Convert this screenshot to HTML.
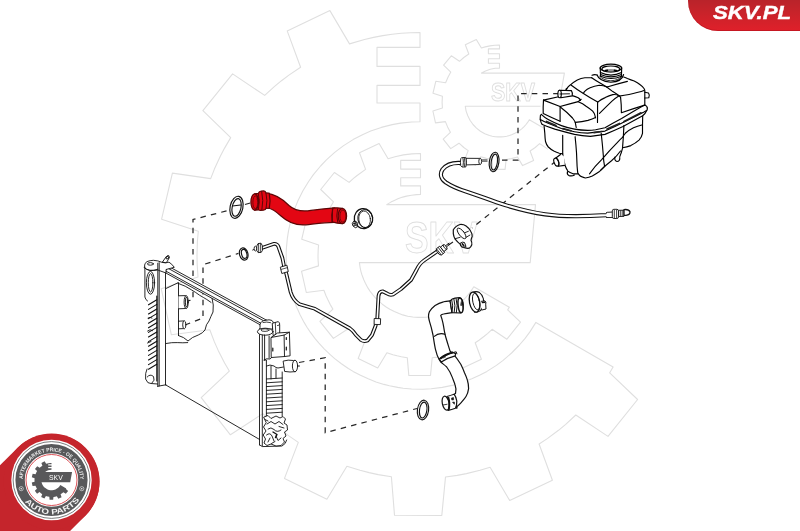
<!DOCTYPE html>
<html><head><meta charset="utf-8"><title>SKV</title>
<style>
html,body{margin:0;padding:0;background:#fff;overflow:hidden;}
body{width:800px;height:531px;position:relative;font-family:"Liberation Sans",sans-serif;}
svg{position:absolute;left:0;top:0;display:block;will-change:transform;}
.tab{position:absolute;left:688px;top:0;width:112px;height:30.6px;border-bottom-left-radius:30px 30px;box-shadow:inset 0 -1px 0 rgba(150,10,20,0.35);background:linear-gradient(#b9232a,#c8232a 40%,#e0202a);}
.tab span{position:absolute;left:712px;top:0;}
.tabtxt{position:absolute;left:712.5px;top:4.4px;font-family:"Liberation Sans",sans-serif;font-weight:bold;font-style:italic;font-size:18.5px;color:#fff;letter-spacing:0px;transform-origin:0 0;transform:scaleX(1.2);-webkit-text-stroke:0.4px #fff;white-space:nowrap;line-height:18px;}
</style></head>
<body>
<svg width="800" height="531" viewBox="0 0 800 531">
<g fill="none" stroke="#dfdfdf" stroke-width="1.1" stroke-linejoin="round"><path d="M300.6,67.2 L288.9,75.1 L281.5,80.7 L274.3,86.7 L264.7,95.4 L232.6,73.9 L202.9,110.7 L230.7,137.6 L224.6,148.1 L220.3,156.3 L214.4,169.1 L210.7,178.6 L172.4,173.1 L161.6,219.2 L198.3,231.3 L197.4,241.5 L197.0,255.5 L197.2,264.8 L198.0,277.0 L161.2,288.7 L171.4,334.8 L209.8,329.8 L214.4,341.9 L218.2,350.4 L224.6,362.9 L229.3,371.1 L201.2,397.6 L230.4,434.8 L262.8,413.6 L270.8,421.2 L281.5,430.3 L288.9,435.9 L298.3,442.4 L284.5,478.4 L326.9,499.2 L346.9,466.2 L360.0,470.3 L369.1,472.6 L378.2,474.6 L391.4,476.7 L394.5,515.2 L441.8,515.5 L445.5,477.0 L457.2,475.4 L466.4,473.6 L480.0,470.3 L490.1,467.2 L509.7,500.5 L552.4,480.3 L539.1,444.0 L547.3,438.6 L558.5,430.3 L565.7,424.3 L575.8,415.0 L608.0,436.4 L637.6,399.5 L609.7,372.8 L613.1,367.0 L535.9,322.4 L529.9,331.9 L524.9,338.6 L519.4,345.0 L511.6,353.0 L503.1,360.4 L496.4,365.4 L486.9,371.4 L479.5,375.3 L471.8,378.8 L461.3,382.8 L453.3,385.1 L442.3,387.4 L431.2,388.8 L422.8,389.3 L411.6,389.0 L403.2,388.2 L397.7,387.4 L389.4,385.8 L384.0,384.4 L376.0,381.9 L368.2,378.8 L360.5,375.3 L353.1,371.4 L348.3,368.5 L341.4,363.7 L334.7,358.6 L330.5,354.9 L324.4,349.1 L318.7,342.9 L315.1,338.6 L310.1,331.9 L307.0,327.2 L304.1,322.4 L300.2,315.0 L296.7,307.3 L293.6,299.5 L291.1,291.5 L289.1,283.3 L287.6,275.0 L286.9,269.5 L286.3,261.1 L286.2,252.7 L286.5,247.1 L287.3,238.7 L288.6,230.4 L290.4,222.2 L291.9,216.8 L294.6,208.9 L297.8,201.1 L302.8,191.0 L308.6,181.5 L313.4,174.6 L320.6,166.0 L326.4,159.9 L334.7,152.4 L343.6,145.6 L353.1,139.6 L363.0,134.4 L370.7,131.1 L381.3,127.4 L392.2,124.6 L400.5,123.1 L411.6,122.0 L420.0,121.7 L420.0,103.0 L377.0,103.0 L377.0,85.4 L420.0,85.4 L420.0,66.4 L377.0,66.4 L377.0,47.4 L420.0,47.4 L420.0,32.5 L410.7,32.7 L401.3,33.3 L392.1,34.3 L382.8,35.6 L373.6,37.4 L364.5,39.5 L349.5,43.9 L329.9,10.6 L287.2,30.9 L300.6,67.2Z"/><path d="M468.8,54.0 L463.8,57.5 L459.5,61.3 L451.3,55.8 L443.6,65.2 L450.8,72.1 L448.1,77.0 L445.6,82.7 L435.8,81.3 L433.0,93.2 L442.4,96.3 L442.1,102.5 L442.4,108.0 L432.9,111.0 L435.5,122.9 L445.4,121.6 L447.6,126.9 L450.4,132.3 L443.2,139.1 L450.7,148.6 L459.0,143.2 L463.8,147.5 L468.2,150.6 L464.6,159.9 L475.5,165.2 L480.7,156.7 L486.4,158.4 L492.1,159.4 L492.9,169.3 L505.1,169.4 L506.1,159.5 L511.4,158.6 L517.5,157.0 L522.6,165.6 L533.6,160.4 L530.1,151.0 L535.2,147.5 L539.6,143.6 L547.9,149.1 L555.5,139.6 L548.3,132.7 L549.2,131.2 L529.3,119.7 L527.8,122.2 L526.0,124.5 L524.1,126.6 L522.0,128.6 L519.7,130.4 L517.3,132.0 L514.8,133.3 L512.2,134.5 L509.5,135.5 L506.7,136.2 L503.8,136.7 L500.9,136.9 L498.1,136.9 L495.2,136.7 L492.3,136.2 L489.5,135.5 L484.8,133.7 L480.4,131.2 L476.5,128.1 L473.0,124.5 L470.0,120.3 L467.8,115.8 L466.1,111.1 L465.3,106.3 L558.6,106.3 L564.4,73.1 L481.5,73.1 L485.5,71.0 L490.2,69.3 L495.2,68.3 L499.5,68.1 L499.5,63.2 L488.4,63.2 L488.4,58.7 L499.5,58.7 L499.5,53.8 L488.4,53.8 L488.4,48.9 L499.5,48.9 L499.5,45.1 L494.7,45.3 L489.9,45.9 L485.2,46.9 L481.4,48.0 L476.3,39.5 L465.3,44.7 L468.8,54.0Z"/><path d="M365.6,169.4 L356.8,175.7 L353.5,178.4 L349.1,182.4 L334.4,172.5 L320.7,189.5 L333.5,201.8 L330.7,206.6 L328.7,210.4 L326.0,216.3 L324.3,220.7 L306.7,218.1 L301.7,239.3 L318.6,244.9 L318.2,249.6 L318.0,256.0 L318.1,260.3 L318.5,265.9 L301.5,271.2 L306.3,292.5 L323.9,290.2 L326.0,295.7 L327.8,299.6 L330.7,305.4 L332.9,309.1 L319.9,321.3 L333.4,338.4 L348.2,328.7 L351.9,332.2 L356.8,336.3 L360.3,338.9 L364.6,341.9 L358.2,358.5 L377.7,368.0 L386.9,352.8 L392.9,354.7 L397.1,355.8 L401.3,356.7 L407.3,357.7 L408.8,375.4 L430.5,375.5 L432.2,357.8 L437.6,357.1 L441.8,356.3 L448.1,354.7 L452.7,353.3 L461.7,368.6 L481.4,359.3 L475.2,342.7 L479.0,340.2 L484.2,336.3 L487.5,333.6 L492.1,329.3 L506.9,339.2 L520.5,322.2 L507.7,309.9 L509.3,307.2 L473.8,286.8 L471.0,291.1 L467.9,295.2 L464.4,299.0 L460.7,302.6 L456.6,305.8 L452.4,308.6 L447.8,311.1 L443.1,313.2 L438.3,314.9 L433.3,316.2 L428.2,317.0 L423.1,317.4 L417.9,317.4 L412.8,317.0 L407.7,316.2 L402.7,314.9 L399.1,313.6 L394.3,311.6 L389.8,309.3 L386.5,307.2 L382.3,304.2 L379.3,301.7 L375.7,298.1 L373.1,295.2 L370.0,291.1 L367.9,287.9 L365.4,283.3 L363.8,279.8 L362.0,275.0 L360.9,271.3 L360.1,267.5 L359.4,262.6 L530.2,262.6 L535.5,204.6 L386.7,204.6 L390.9,202.1 L394.3,200.4 L397.9,198.8 L402.7,197.1 L406.5,196.1 L411.5,195.2 L416.6,194.6 L420.5,194.5 L420.5,185.9 L400.7,185.9 L400.7,177.8 L420.5,177.8 L420.5,169.1 L400.7,169.1 L400.7,160.4 L420.5,160.4 L420.5,153.5 L411.9,153.9 L403.4,154.9 L395.0,156.7 L388.1,158.8 L379.1,143.5 L359.5,152.8 L365.6,169.4Z"/><text x="491" y="101.3" textLength="44" lengthAdjust="spacingAndGlyphs" font-family="Liberation Sans" font-weight="bold" font-size="25" fill="none" stroke="#dfdfdf" stroke-width="1">SKV</text><text x="405" y="253.3" textLength="72.5" lengthAdjust="spacingAndGlyphs" font-family="Liberation Sans" font-weight="bold" font-size="43.5" fill="none" stroke="#dfdfdf" stroke-width="1">SKV</text></g>
<g id="dashes" fill="none" stroke="#262626" stroke-width="1.25" stroke-dasharray="5.5 5.2">
<path d="M185,301 L193,300 L193,219.5 L230,210"/>
<path d="M245,204.5 L252,202.5"/>
<path d="M185,325 L203,318 L203,264.7 L238.4,253.4"/>
<path d="M299,362.5 L325.2,357.7 L325.2,432.7 L417,408.5"/>
<path d="M502,160 L518,160 L518,93.5 L558,93.5"/>
<path d="M556,161 L472,228"/>
<path d="M453,242 L444,248"/>
</g>

<g id="rad" fill="none" stroke="#111" stroke-width="0.9" stroke-linejoin="round" stroke-linecap="round">
<!-- blob behind radiator -->
<path d="M166,288.5 L178.5,282.5 L178.5,335.5 M178.5,335.5 Q184,337 188,341 Q192,337 198.3,335 Q203,333 205,330 Q206,324 209,321 Q211,316 213,312 Q214,305 212,298 Q208,293 205,291 Q200,289 196,288.5"/>
<path d="M166,343.5 Q172,342.3 177.2,342.6 Q183,343 187.7,342.6"/>
<!-- stubs on blob -->
<path fill="#fff" d="M178.5,295.8 L186,295.6 L186.4,308.5 L178.5,308.8 Z" stroke="none"/>
<path d="M178.5,295.8 L185.5,295.6 M178.5,308.8 L185.8,308.5"/>
<ellipse cx="186.2" cy="302.1" rx="2.1" ry="6.5" fill="#fff"/>
<ellipse cx="186.5" cy="302.1" rx="1.1" ry="5"/>
<path d="M178.5,321.2 L184,320.9 M178.5,328.8 L184,328.6"/>
<ellipse cx="184.3" cy="324.8" rx="1.6" ry="4" fill="#fff"/>
<!-- top rail -->
<path fill="#fff" stroke="none" d="M169.5,266.9 L266.2,320.0 L259.8,324.6 L165.5,272.8 L165.5,269.7 Z"/>
<path d="M169.5,266.9 L266.2,320.0 M167.5,268.0 L264.6,321.3 M165.5,270.9 L261.5,323.6 M165.5,272.8 L259.8,324.6"/>
<path d="M266.2,320.0 L264.6,321.3 M261.5,323.6 L259.8,324.6"/>
<path d="M165.5,270.9 L167.5,268.0 L169.5,266.9"/>
<path d="M178,283.3 Q186,286 191.2,289.7 Q196,292.5 199.7,295.3 Q204,297.8 206.8,299.5 L211,302.4" stroke-width="0.9"/>
<!-- left tank frame -->
<path d="M157.8,263 L157.8,386.3 M159.2,262.6 L159.2,386 M165.5,269.6 L165.5,384.8"/>
<path d="M157.6,386.3 L165.9,384.8"/>
<!-- left tank body -->
<path fill="#fff" d="M144.4,266.5 Q144.3,262.8 147,261.6 Q150,260.4 153.4,260.3 Q158,260.5 161.8,262.3 L165,262.8 L169,262.2 Q171.8,263.8 174.3,267.3 L166,269.5 L166,273 L157.8,270 Q153,270.8 149.9,270.4 Q146,269.6 144.4,267.8 Z"/>
<path d="M144.6,267.8 Q146.5,269.8 149.9,270.4 Q154,270.6 157.8,269.3"/>
<ellipse cx="150.4" cy="263.9" rx="3" ry="1.3"/>
<path d="M157.8,263.2 L157.8,269.5 M159.2,262.6 L159.2,269.8"/>
<path fill="#fff" d="M162.6,261.8 L166.3,256.5 Q168.5,255.7 169.3,257.8 L166.5,262.5 Z"/>
<ellipse cx="167.6" cy="257.3" rx="1.2" ry="2" transform="rotate(35 167.6 257.3)"/>
<path d="M144.9,267 L144.9,297 Q145.5,300 147.5,301 M147,369 Q145,373 145.6,379 Q147.5,384 151,383.5 L157.6,384"/>
<ellipse cx="150.5" cy="282.8" rx="4.1" ry="11.4"/>
<ellipse cx="150.6" cy="282.8" rx="2.3" ry="9.2"/>
<g stroke-width="1.1">
<path d="M148.5,304.8 L156.8,299.8 M148.5,309.4 L156.8,304.4 M148.5,314.0 L156.8,309.0 M148.5,318.6 L156.8,313.6 M148.5,323.2 L156.8,318.2 M148.5,327.8 L156.8,322.8 M148.5,332.4 L156.8,327.4 M148.5,337.0 L156.8,332.0 M148.5,341.6 L156.8,336.6 M148.5,346.2 L156.8,341.2 M148.5,350.8 L156.8,345.8 M148.5,355.4 L156.8,350.4 M148.5,360.0 L156.8,355.0 M148.5,364.6 L156.8,359.6 M148.5,369.2 L156.8,364.2"/>
<path d="M156.8,296 L156.8,381"/>
<path d="M147.2,377 Q150,373.5 153.5,376.5 Q155.5,380.5 152,383 M147.5,343 L151,341.5 M147.5,331 Q150,328.5 152.5,330.5 M148,318 Q150,316.5 152,318" stroke-width="0.9"/>
</g>
<!-- core bottom edge -->
<path d="M165.5,384.8 L259.6,439.5"/>
<!-- right tank frame -->
<path d="M259.5,333 L259.5,445"/>
<path d="M259.6,445 Q262,447.5 266,446.5 L282,446 Q286,444 286.7,440"/>
<!-- right tank cap -->
<path fill="#fff" d="M260,327 Q259.3,321.8 263.8,320.6 L269,319.8 Q272.6,319.9 273.3,322.2 L273.1,329 L260,329 Z"/>
<path d="M263,322.5 Q266.5,321.5 270.5,322.6" stroke-width="0.8"/>
<path fill="#fff" d="M272.6,323.2 L278.3,321.6 Q280,322.6 279.7,325.5 L279.7,333.5 L273.5,335.5 Z"/>
<path d="M275.3,322.7 L275.8,334.5 M277.5,325.5 L279.5,325" stroke-width="0.8"/>
<ellipse cx="265.2" cy="331.7" rx="7.8" ry="3.5" fill="#fff"/>
<ellipse cx="265" cy="330.1" rx="4" ry="1.3" stroke-width="0.8"/>
<path d="M262.3,335 L262.3,446 M264.6,335 L264.6,360"/>
<!-- box -->
<path fill="#fff" d="M271.3,337.4 L277.5,333 L289.4,332.2 L290.1,355.8 L284.8,356.5 L271.6,357.5 Z"/>
<path d="M271.3,337.4 L284.1,335.1 L289.4,332.2 M284.1,335.1 L284.5,356.5"/>
<path d="M286.3,337.5 L286.3,339.5 M286.3,347 L286.3,350 M272.8,348 L272.8,351" stroke-width="1.2"/>
<path d="M269.1,336 L269.1,358"/>
<!-- outlet stub -->
<path fill="#fff" d="M283.5,361 Q288,359.5 293.5,360.5 L294.8,360.4 L295.5,371.6 Q290,372.5 285,371.5 Z"/>
<ellipse cx="295" cy="366" rx="2.6" ry="5.8" fill="#fff"/>
<path d="M297.6,366 L299.5,366"/>
<!-- right tank body -->
<path d="M264.1,360 Q266,358 270,359 L271.6,357.5 M264.1,360 L266.4,360 L266.4,416"/>
<path d="M282.2,372 L282.2,416"/>
<g stroke-width="0.9">
<path d="M266.4,379 L282.2,378 M266.4,382.8 L282.2,381.8 M266.4,386.6 L282.2,385.6 M266.4,390.4 L282.2,389.4 M266.4,394.2 L282.2,393.2 M266.4,398 L282.2,397 M266.4,401.8 L282.2,400.8 M266.4,405.6 L282.2,404.6 M266.4,409.4 L282.2,408.4 M266.4,413.2 L282.2,412.2"/>
<path d="M271,379 L271,366 M276,378 L276,369"/>
<path d="M266.4,366 Q270,364 274,366 Q276,368 278,368 L283.5,367"/>
<path d="M264,417 L268,415.5 L271,418.5 L276,416 L280,418 L283,416.5 L285.5,419 L284,423 L287,425 L287.5,430 L284.5,432 L286,436 L283,438.5 L284.5,442 L281,445.5 L276,446 L271,444 L267,445.5 L264,443 L265.5,439 L263.2,435 L266,431 L263.5,427 L266,423 Z" fill="#fff"/>
<path d="M267,424 L271,421.5 L275,424 L279,421.5 L283,424.5 M268,429 Q271,426.5 274,429.5 Q277,433 281,430 M266.5,435 Q270,432 272,436 L274,441 M276,436 L278,440.5 L281,438 M270,438 L268,442 M279,426.5 L284,428 M265,419.5 L268,421 M271.5,443.5 L275,441.5"/>
<path d="M273,432 L277,434.5 L275.5,437.5" stroke-width="1.4"/>
</g>
</g>


<g id="misc" fill="none" stroke="#111" stroke-width="1.15" stroke-linejoin="round" stroke-linecap="round">
<!-- O-rings -->
<g transform="rotate(12 236.5 207.3)"><ellipse cx="236.5" cy="207.3" rx="6.4" ry="11.2"/><ellipse cx="236.6" cy="207.4" rx="4.4" ry="9"/></g>
<path d="M232.5,206 L240.5,205"/>
<g transform="rotate(-15 243.7 254)"><ellipse cx="243.7" cy="254" rx="4.2" ry="6.2"/><ellipse cx="244.2" cy="254" rx="2.6" ry="4.6"/></g>
<g transform="rotate(8 494.1 162)"><ellipse cx="494.1" cy="162" rx="4.8" ry="9.8"/><ellipse cx="494.3" cy="162" rx="3.1" ry="8"/></g>
<g transform="rotate(8 423 410)"><ellipse cx="423" cy="410" rx="5.6" ry="9.9"/><ellipse cx="423.2" cy="410" rx="3.7" ry="8"/></g>
<!-- clamps -->
<!-- C1 -->
<g transform="rotate(-8 363.5 218.6)">
<ellipse cx="363.5" cy="218.6" rx="9.2" ry="10" stroke-width="1.3" fill="#fff"/>
<ellipse cx="365.2" cy="218.9" rx="7.4" ry="9.1" stroke-width="0.9"/>
<ellipse cx="364.5" cy="219.4" rx="5.8" ry="8.3" stroke-width="0.8"/>
</g>
<path d="M353.5,221.5 L352.3,223.5 L353,226 L355.5,227.7 L357.8,226.5 L357,222.5 Z" fill="#fff" stroke-width="1"/>
<path d="M353.8,223.3 L356,223 M354,225.2 L356.5,225" stroke-width="1.3"/>
<!-- C2 -->
<path fill="#fff" stroke-width="1.2" d="M453.3,229.8 Q456,225.5 460.1,224.5 Q463.5,224.2 466.1,226 Q469,228 470.7,231.3 Q472.4,234 472.2,236.6 Q471.3,238.5 471,240.3 Q472.2,242.5 471.8,244.8 Q470.8,247.5 469.2,248.2 Q467,248.6 465.4,247.9 Q463,247.6 461.6,246.7 Q460.5,245.5 460.1,244.1 Q457.5,242 455.6,239.6 Q453.6,237 453.3,233.6 Z"/>
<ellipse cx="461.6" cy="233.4" rx="2.6" ry="6.4" transform="rotate(-38 461.6 233.4)" stroke-width="0.9"/>
<path d="M454.8,238.8 L460.1,237.3 M464.6,232.8 L468.4,231.3 M466.1,237.3 L469.9,235.1" stroke-width="0.9"/>
<path d="M460.5,243 Q462.5,241.5 464.5,242.5 L466,246.5 Q464,248 461.8,246.8 Z" fill="#fff" stroke-width="1"/>
<path d="M462.3,243.8 L463.8,245.8" stroke-width="1.6"/>
<!-- C3 -->
<path fill="#fff" stroke-width="1.1" d="M472.5,292.6 Q476,290.6 479.5,292.6 Q482.5,294.8 483.3,298.5 Q484,302 483.5,305 Q482.5,309 480.1,310.9 Q477.5,312.6 474.5,312.2 Z"/>
<g transform="rotate(-12 474.6 302.1)">
<ellipse cx="474.6" cy="302.1" rx="5.1" ry="10.2" stroke-width="1.3" fill="#fff"/>
<ellipse cx="476.2" cy="301.9" rx="3.3" ry="8.4" stroke-width="0.9"/>
</g>
<path d="M481.5,301.3 L485,300.9 Q486.4,302.2 485.7,304.2 L486,309 L482,310" fill="#fff" stroke-width="1"/>
<path d="M482.4,302.5 L484.8,302.3" stroke-width="1.5"/>
</g>
<!-- metal pipe -->
<g id="pipe" fill="none" stroke-linejoin="round" stroke-linecap="round">
<path id="pipeC" stroke="#111" stroke-width="3.8" d="M262.5,247.8 L274.1,243.8 Q277,243.6 278.2,246.2 L282.4,258 L284,266 L286.5,274.5 L290.7,292.2 Q293,300 299.7,304.3 L307.2,306.5 L314.8,308.8 L350,328.5 Q353,330.5 356,335 L361,340 Q364,342 367.5,340.5 L372,335 L375.5,326 L377.3,318 L378.5,296 Q379,291.5 382.5,291.3 L387,293.5 Q390,295.5 393,294.5 L401,289 L411,280 L416.5,270 Q419.5,263.5 424,260.5 L438,250.8"/>
<path stroke="#fff" stroke-width="1.6" d="M262.5,247.8 L274.1,243.8 Q277,243.6 278.2,246.2 L282.4,258 L284,266 L286.5,274.5 L290.7,292.2 Q293,300 299.7,304.3 L307.2,306.5 L314.8,308.8 L350,328.5 Q353,330.5 356,335 L361,340 Q364,342 367.5,340.5 L372,335 L375.5,326 L377.3,318 L378.5,296 Q379,291.5 382.5,291.3 L387,293.5 Q390,295.5 393,294.5 L401,289 L411,280 L416.5,270 Q419.5,263.5 424,260.5 L438,250.8"/>
</g>
<g fill="#fff" stroke="#111" stroke-width="0.9" stroke-linejoin="round">
<!-- ferrules -->
<path d="M280.3,267.2 L286.9,265.2 L288.3,271.6 L281.8,273.5 Z"/><path d="M280.8,269.5 L287.5,267.6" fill="none" stroke-width="0.7"/>
<path d="M374.2,318.5 L380.6,318.7 L380.4,324.6 L374.1,324.4 Z"/>
<!-- pipe end fitting left -->
<path d="M252.3,250.2 L254.5,249.2" fill="none"/>
<ellipse cx="255.4" cy="248.6" rx="1.3" ry="2.4"/>
<path d="M256.8,246 L258,243.6 L261,243.2 L262.4,245.8 L262.5,250.3 L261.2,252.4 L258.1,252.6 L256.8,250.6 Z"/>
<path d="M258.6,243.5 L258.7,252.5 M260.6,243.3 L260.7,252.4" fill="none" stroke-width="0.8"/>
<!-- pipe end fitting right -->
<g transform="translate(442.2,249.3) rotate(-38)">
<path d="M-5.5,-2.3 L-4.2,-4 L0,-4 L0,4 L-4.2,4 L-5.5,2.3 Z"/>
<path d="M-4.2,-4 L-4.2,4 M-2,-4 L-2,4" fill="none" stroke-width="0.8"/>
<path d="M0,-2.8 L3.8,-2.8 L3.8,2.8 L0,2.8 Z"/>
<ellipse cx="3.8" cy="0" rx="1.1" ry="2.8"/>
<path d="M4.8,-0.7 L9.5,-0.7 M4.8,0.7 L9.5,0.7" fill="none" stroke-width="0.9"/>
</g>
</g>
<!-- sensor cable -->
<g fill="none" stroke-linejoin="round" stroke-linecap="round">
<path stroke="#111" stroke-width="4.3" d="M460.5,163 C452,162.5 446,165 442.5,169.5 C439.5,174 441,179 446,182.5 C452,186.5 458,189 466,191.5 C480,196 492,201 505,205 C520,209.5 532,212.5 545,214.3 C560,216.5 585,216.5 606.6,215.1 L612,214"/>
<path stroke="#fff" stroke-width="2.1" d="M460.5,163 C452,162.5 446,165 442.5,169.5 C439.5,174 441,179 446,182.5 C452,186.5 458,189 466,191.5 C480,196 492,201 505,205 C520,209.5 532,212.5 545,214.3 C560,216.5 585,216.5 606.6,215.1 L612,214"/>
</g>
<g fill="#fff" stroke="#111" stroke-width="0.9" stroke-linejoin="round">
<!-- sensor -->
<path d="M482,159.9 L487.5,159.9 M482,161.2 L487.5,161.2" fill="none" stroke-width="0.8"/>
<path d="M466,158.3 L480.2,158.4 Q481.8,161.4 480.2,164.5 L466,164.9 Z"/>
<ellipse cx="480.2" cy="161.4" rx="1.4" ry="3.1"/>
<path d="M462,157.5 L465.8,157.6 Q467.2,162.2 465.8,167 L462,167 Z"/>
<ellipse cx="461.9" cy="162.2" rx="1.5" ry="4.7"/>
<path d="M464.3,157.6 Q465.5,162.2 464.3,167" fill="none" stroke-width="0.8"/>
<!-- right connector -->
<path d="M606.5,212.6 L612.5,212 L612.5,217.6 L606.5,217.4 Z" stroke="none"/>
<path d="M606,212.8 L607.2,212.3 L612.5,212 M612.5,217.5 L606,217.5" fill="none"/>
<rect x="612.3" y="209.3" width="6.2" height="9.2" rx="1.6"/>
<path d="M614.3,209.8 L614.3,218 M616.6,209.6 L616.6,218.2" fill="none" stroke-width="0.8"/>
<path d="M618.5,210.3 L624,210.2 L624,216.4 L618.5,216.5 Z"/>
<path d="M620.3,210.3 L620.3,216.4 M622.2,210.2 L622.2,216.4" fill="none" stroke-width="0.8"/>
<path d="M624,209.6 Q628.8,209 630,211.8 Q630.2,215 626,215.4 L624,215.4 Z" stroke-width="1.3"/>
</g>
<!-- lower hose -->
<g fill="#fff" stroke="#111" stroke-width="1.2" stroke-linejoin="round">
<path d="M450.1,300.8 C447,301 445,301.3 443.5,301.8 C440,302.8 437.5,304 435.1,305.5 C432.5,307.5 430.5,309.5 429.4,311.7 C428.6,313.5 428.4,315 428.5,316.4 C428.6,318 429,319.5 429.4,321.1 L431.3,327.7 L433,335 C433.8,340 434.5,345 435.4,349.1 C436.3,353 437.5,356.5 439.1,359.5 L441,362.3 C443,364 445,365.3 446.7,367 C449,370 450.8,373.5 452.3,377.4 C453.5,380.5 454.6,383 455.1,385 C456.2,388 456.3,391 455.5,393.5 L454.1,394.2 L456.8,408.3 L457.1,406.4 C458.5,405.4 460,404 461.4,402.4 C463,400.5 464.8,398.5 466,396.5 C467.5,394 468.3,391 468.6,388.6 C468.6,386 468.3,383 467.4,380.2 C466.6,377.5 465.6,375 464.5,372.7 C463.5,370 462.2,367 460.8,364.2 C458.5,360.5 456,357 453.2,353.8 L450,351 C448.5,346 446.5,340 445.2,335 C444.5,332 444,329 443.5,325.8 C443,323 442.3,320.5 441.7,318.2 L440.7,315.4 C441.5,314.6 442.5,314.2 443.5,314 C446.5,313.3 449.5,312.9 452,312.6 Z"/>
<path fill="none" d="M433.9,336.6 Q439.5,331.8 445.5,334.6" stroke-width="1.1"/>
<!-- top cuff -->
<path d="M450.1,300.8 Q452,298.7 455,298.2 L459.5,297.6 Q462.8,298.6 463.2,304.8 Q463.2,310.8 460.5,313 L452,312.6 Z"/>
<path fill="none" d="M451.6,299.3 Q453.6,305.8 451.9,312.6 M453.8,298.6 Q455.9,305.8 454.1,312.7 M456,298.2 Q458.1,305.8 456.3,312.8" stroke-width="1"/>
<ellipse cx="460.5" cy="305.3" rx="2.4" ry="7.4" stroke-width="1.5" transform="rotate(-6 460.5 305.3)"/>
<path d="M461.2,300 Q462.3,303 461.8,306 L460.2,305.5 Z" fill="#222" stroke="none"/>
<!-- middle clamp -->
<path d="M439.3,359 Q445,354.5 452.5,352.3 L455.6,353.6 L455.2,355.8 Q448,357.5 441.3,362 Z"/>
<path fill="none" d="M440.3,358.6 Q446,354 453.2,352.6" stroke-width="2"/>
<path fill="none" d="M443.2,358.4 Q444,356.5 445.8,356.8 M453.5,352.4 L456.2,351.8 L457,354.2" stroke-width="1"/>
<!-- bottom cuff -->
<path d="M447,396.5 Q450.5,395.3 454.1,394.2 Q456.2,397 456.8,401 Q457,405 455.4,408.3 Q451.5,409.8 448.2,410.3 Z"/>
<ellipse cx="445.7" cy="403.2" rx="3.4" ry="7.1" transform="rotate(-12 445.7 403.2)"/>
<path fill="none" d="M448.2,397 Q450.2,403 448.7,409.8" stroke-width="1.9"/>
<path fill="none" d="M443,405 L447.5,404.2" stroke-width="0.8"/>
<path d="M451.5,398 L453.5,397.6 L453.6,399.8 L451.8,400 Z M452.5,402.2 L454.4,402 L454.4,404.3 Z" fill="#111" stroke-width="0.6"/>
</g>

<g id="hose" stroke="#5c0606" stroke-width="1.2" stroke-linejoin="round" fill="#e30613">
<path d="M266,193.2 C 275,194 282,198.5 289,205.5 C 295,211 302,211.8 311,210.4 C 319,209.3 327,208.4 335,207.9 L 337.5,222.4 C 328,221.8 318,223.4 306,224.8 C 295,225.8 287,221.5 281,216 C 276,211.5 272,208.5 268,208 Z"/>
<!-- left cuff -->
<path d="M254.7,193.8 L258.3,193.4 Q258.8,191.4 261.2,191 L263.6,190.9 Q265.6,191.2 265.9,192.9 L269.2,193.1 Q270.8,200.5 269.3,208.1 L266,208.4 Q265.8,210 263.3,210.2 L260.2,210.3 Q258.6,210.2 258.3,209.9 L254.7,210.2 Z"/>
<ellipse cx="254.7" cy="202" rx="3.8" ry="8.2"/>
<ellipse cx="255.3" cy="202.3" rx="2.4" ry="6.4" fill="none" stroke-width="0.8"/>
<path fill="none" d="M258.3,193.4 Q260.3,201.5 258.3,209.9 M261.6,191 Q263.8,200.5 261.8,210.3 M265.9,192.9 Q267.9,200.5 266,208.4" stroke-width="1"/>
<path fill="none" d="M257,199.5 L258,197.5 L259,200" stroke-width="0.9"/>
<!-- right cuff -->
<path d="M332.5,208.2 Q337,207.5 342.4,208.3 L342.4,223.6 Q337,223.5 332.2,221.9 Z"/>
<path fill="none" d="M333,208.1 Q330.8,215 332.2,221.9 M337.6,208.6 Q335.8,216 337.9,223" stroke-width="1"/>
<ellipse cx="342.4" cy="216" rx="4.2" ry="7.6"/>
<ellipse cx="342.9" cy="216.1" rx="3" ry="6.1" fill="none" stroke-width="0.8"/>
</g>

<g id="tank" fill="none" stroke="#000" stroke-width="1.15" stroke-linejoin="round" stroke-linecap="round">
<path fill="#fff" stroke="none" d="M541,102 L543.5,100 L558.6,96.7 L566,89.5 L570.5,84.8 L577.3,79.9 L584.9,77.7 L593,76.5 L600.5,68 L622,68 L624,77 L634.2,81 L640.2,84.8 L644,88.5 L645,91 L645,105 L647.3,107.9 L646.5,110.5 L642.7,115.8 L642.1,126.4 L640.1,136.9 L634.8,144.8 L627,148 L620,152 L612,160 L603,170 L592,177 L580,178 L568,175 L563,168 L557,165 L548,150 L544,141 L543,125 L540,120 L540,114 Z"/>
<!-- neck -->
<path fill="#fff" d="M600.2,68 L600.6,76 Q611,80.5 621.4,76 L621.7,68 Z" stroke="none"/>
<path d="M600.2,67.9 L600.6,76.3 M621.7,67.9 L621.4,76.3"/>
<path d="M600.4,72.6 Q611,77.5 621.5,72.6 M600.5,74.4 Q611,79.2 621.5,74.4 M600.6,76.2 Q611,80.8 621.4,76.2"/>
<ellipse cx="610.9" cy="67.9" rx="10.7" ry="3.7" fill="#fff" stroke-width="1.3"/>
<ellipse cx="610.8" cy="68.9" rx="8.9" ry="2.9" fill="#fff"/>
<ellipse cx="610.8" cy="70.2" rx="5" ry="1.3" fill="#999" stroke="none"/>
<path d="M605.2,70.5 L607.5,70.3 M614.3,70.3 L616.5,70.5" stroke-width="1.4"/>
<path d="M597.1,75 Q599,81 610.8,82.3 Q622,81.5 623.6,74.5"/>
<path d="M599.5,76.2 Q603,80.2 610.8,80.8 Q619,80.2 621.6,76.5" stroke-width="0.8"/>
<path d="M592,75.2 Q594.5,74.2 597.1,75"/>
<!-- top silhouette -->
<path d="M566,90 L566.8,88.6 Q568,86.5 570.5,84.8 Q573.5,82 577.3,79.9 Q581,78.2 584.9,77.7 L591.7,77.7"/>
<path d="M623.7,77 Q626,77.8 627.4,78.5 Q631,80 634.2,81 Q637.5,82.5 640.2,84.8 Q642.8,86.8 644,88.5 Q644.8,89.8 644.8,90.8 L644.8,105.1"/>
<!-- right tab -->
<path d="M644.8,92.3 L648.5,93 Q650,95 648.8,97.8 L644.8,98"/>
<!-- block A/B/C boundaries -->
<path d="M571.3,85.2 Q577,89.5 583.4,93.5 Q590,97.8 597.7,102.1"/>
<path d="M583.4,93.5 Q584,92 584.9,91.2 Q587,89 590.1,87.8 Q594.5,86 599.2,85.2 Q603.5,85.2 607.1,87"/>
<path d="M591.7,77.7 Q595,80 599.2,82.5 Q603,84.7 606.7,87 Q610,89.5 612.8,91.6 Q616,93.5 618.8,95.4 Q620.3,96.5 620.6,97.6"/>
<path d="M597.7,102.1 Q601,99.3 605.2,97.6 Q609,95.7 612.8,94.6 Q616,94 619.4,95.9"/>
<path d="M597.6,102.3 L597.5,122.5"/>
<path d="M599.5,113.4 Q606,107 612,101.2 Q615.5,98 618.4,96.3"/>
<!-- block B front -->
<path d="M607.1,87 Q617,84 627.4,81.4"/>
<path d="M619.1,96.1 Q630,94.5 637,92.5 Q642,91.3 644,90.4"/>
<path d="M620.6,97.6 Q621.4,104 621.4,112.7 Q632,109 644.8,105.1"/>
<!-- block D (left front) -->
<path d="M543.5,100.1 L558.6,96.8"/>
<path d="M543.5,100.1 Q551,103 560.1,106.5 Q569,104 578.2,101.6 Q580,100 581.2,99.3"/>
<path d="M543.5,100.1 Q543,107 543.2,113.6 Q551,117.5 560.1,121.2"/>
<path d="M560.1,106.5 L560.1,121.2"/>
<path d="M572.3,95.6 Q575.5,96.5 578.2,97.8 Q580,99 580.5,100.4"/>
<path d="M566.8,88.6 Q566,89.8 566,91"/>
<!-- block E (front middle) -->
<path d="M560.6,107.3 Q568,113 572.5,118 Q574.5,120.5 575.3,122.5 L576.2,127.5"/>
<path d="M575.3,122.4 Q582,121.8 588,120.4 Q592.5,119 595.5,117.6"/>
<path d="M578.2,101.8 Q583,103.5 586.1,106.2 Q590.5,109 592.7,111.2 Q594.6,113.5 595,115.7 L595.5,117.8"/>
<!-- nozzle on top -->
<path fill="#fff" d="M559.4,90.3 L571.4,90.6 Q573,93 572.2,95.9 L560.9,97.8 Z"/>
<ellipse cx="559.6" cy="94" rx="1.7" ry="3.8" fill="#fff"/>
<path d="M560,94 L569.5,93.8" stroke-width="0.9"/>
<path d="M566.7,90.5 L566.2,88.8" stroke-width="0.9"/>
<!-- flange -->
<path d="M541.3,114.4 Q540,115 540.3,117 Q540,119 540.5,120.5 Q541,123 542.3,124.5"/>
<path d="M541.3,114.4 Q544.5,117.5 548.2,119.6 Q555,123.3 561.4,125.6 Q568,128 574.5,129.1 Q581,130.2 587.7,130.4 Q592,130.3 595.6,129.8 L605,127.8 Q613,123 621.6,118.5 Q632,112 642.7,105.9 Q644.5,104.8 645.4,105.3 Q647.3,106.5 647.3,107.9"/>
<path d="M540.3,119.4 Q544,121.5 548.2,123.2 Q555,126 561.4,128.5 Q568,130.5 574.5,131.8 Q581,133 587.7,133.1 L605,131.1 Q614,127 623,122.4 Q634,117 644,111.9 Q646,110.8 646.7,110.5 Q647.6,109.5 647.3,107.9"/>
<path d="M542.3,124.5 Q548,127 554.8,129.1 Q565,132 574.5,134.4 Q582,136 590.4,136.4 L605,134.4 Q614,130.5 623,126.4 Q633,121 642.7,115.8 Q645.5,113.5 646.7,110.5"/>
<!-- hatch on flange -->
<g stroke-width="1.7" stroke="#222">
<path d="M546.5,121.5 L556,125.5 M563,128.6 L571,130.7"/>
<path d="M594,132.6 L601.5,131.5 M607,129 L619.5,123.5 M624,121.5 L641,112.8"/>
</g>
<!-- lower body -->
<path d="M544.1,126.4 Q544.5,130 544.8,133.3 Q545,138 545.5,141.5 Q546.5,145 548.3,147 Q551,149.5 553.8,151.1 Q556.5,152.5 559.3,153.2 L562.7,153.9"/>
<path d="M562.7,135.3 L562.7,153.9 Q563,156 563.4,158 Q564.3,162.5 565.4,166.3 Q566.3,168.8 567.5,170.4"/>
<path d="M575.1,136.7 Q576,145 576.5,152.5 Q576.8,160 577.1,166.3 Q577.4,170 577.8,173.1 Q579.5,175.8 581.3,176.6 Q583.5,177.7 585.4,178 Q589,177.5 592.3,175.9 Q596,174 599.1,171.8 Q602,169 604.6,166.3"/>
<path d="M567.5,171.1 Q570,172.8 573,173.8 L577.8,173.8"/>
<path d="M601.2,133.3 Q602.5,145 603.3,155.3 Q603.5,161 604.6,166.3"/>
<path d="M589.5,173.8 Q595,166 601.9,159.4 Q609,151 617,142.9 Q620,139.5 622.5,137.4"/>
<path d="M600.5,170.4 Q606,165 611.5,160.8 Q617,156 620.5,151"/>
<path d="M622.5,137.4 Q623.8,135 625.3,133.3 Q629,130 633.5,127.8 Q637.5,126 641.8,125"/>
<path d="M622.5,147.7 Q627,147.2 630.8,145.6 Q635.5,143.2 639,140.1 Q641.8,137 642.5,133.3 L642.5,125 L642.7,115.8"/>
<path d="M623.9,125.5 Q623.5,137 622.5,148.4 Q621.5,152.5 619.8,156.6"/>
<path d="M615,157 Q614,160.5 617,161.5 Q620,161.5 619.8,157.5"/>
<!-- outlet nipple -->
<path fill="#fff" d="M555,158.3 L560.5,154.5 L563.8,156 Q565,161 564.7,165.5 L558.5,166.5 Z" stroke="none"/>
<path d="M555.5,158.3 L560.5,154.5 M558.2,166.2 L564.5,165.4"/>
<ellipse cx="556.3" cy="162.1" rx="2.2" ry="4.1" transform="rotate(-20 556.3 162.1)" fill="#fff"/>
<path d="M557.5,158.7 Q560,162 558.8,166" stroke-width="0.9"/>
<!-- feet -->
<path d="M567.5,171.8 Q566.6,174.5 569,175.6 Q572,176.5 574.4,175"/>
</g>

<g id="logo">
<path fill="#c5252c" d="M17.66,447.66 L0,465.3 L0,531 L70.1,531 L85.54,515.54 A48,48 0 0 0 17.66,447.66 Z"/>
<circle cx="51.6" cy="481.6" r="48" fill="#c5252c"/>
<circle cx="51.5" cy="480" r="40.2" fill="#fff"/>
<circle cx="51.5" cy="480" r="38.4" fill="none" stroke="#5a5a5c" stroke-width="0.8"/>
<circle cx="51.5" cy="480" r="31.4" fill="none" stroke="#58585a" stroke-width="9.4"/>
<circle cx="51.5" cy="480" r="25.5" fill="none" stroke="#d0242c" stroke-width="0.8"/>
<defs>
<path id="arcTop" d="M22.82,479.00 A28.7,28.7 0 0 1 80.18,479.00"/>
<path id="arcBot" d="M24.84,501.59 A34.3,34.3 0 0 0 79.25,500.16"/>
</defs>
<text font-family="Liberation Sans" font-weight="bold" font-size="5.3" fill="#eeeeee"><textPath href="#arcTop" textLength="88.2" lengthAdjust="spacingAndGlyphs">AFTERMARKET PRICE - OE QUALITY</textPath></text>
<text font-family="Liberation Sans" font-weight="bold" font-size="7.6" fill="#f4f4f4"><textPath href="#arcBot" textLength="62.9" lengthAdjust="spacingAndGlyphs">AUTO PARTS</textPath></text>
<circle cx="21.22" cy="488.68" r="2.1" fill="none" stroke="#eee" stroke-width="0.6"/>
<circle cx="21.22" cy="488.68" r="0.8" fill="#eee"/>
<circle cx="81.78" cy="488.68" r="2.1" fill="none" stroke="#eee" stroke-width="0.6"/>
<circle cx="81.78" cy="488.68" r="0.8" fill="#eee"/>
<path id="gearpath" fill="#58585a" d="M42.40,465.64 L40.94,466.68 L39.66,467.80 L37.22,466.16 L34.95,468.96 L37.07,471.01 L36.27,472.44 L35.54,474.14 L32.63,473.72 L31.80,477.23 L34.60,478.16 L34.50,480.00 L34.58,481.64 L31.77,482.53 L32.55,486.05 L35.47,485.67 L36.12,487.24 L36.96,488.81 L34.82,490.83 L37.05,493.67 L39.52,492.06 L40.94,493.32 L42.22,494.24 L41.17,497.00 L44.40,498.58 L45.93,496.06 L47.62,496.55 L49.32,496.86 L49.56,499.80 L53.16,499.82 L53.45,496.89 L55.03,496.63 L56.85,496.14 L58.34,498.68 L61.59,497.14 L60.58,494.37 L62.06,493.32 L63.38,492.16 L65.83,493.79 L68.09,490.98 L65.96,488.94 L66.22,488.50 L60.33,485.10 L59.36,486.50 L58.16,487.72 L56.97,488.61 L55.45,489.40 L53.83,489.93 L52.14,490.18 L50.43,490.14 L48.96,489.88 L47.55,489.40 L46.40,488.83 L45.33,488.12 L44.21,487.14 L43.38,486.17 L42.56,484.91 L41.94,483.56 L41.54,482.21 L70.20,482.21 L72.07,472.01 L45.16,472.01 L46.59,471.06 L48.15,470.37 L49.80,469.94 L51.50,469.80 L51.50,468.37 L48.22,468.37 L48.22,467.03 L51.50,467.03 L51.50,465.58 L48.22,465.58 L48.22,464.14 L51.50,464.14 L51.50,463.00 L50.08,463.06 L48.66,463.24 L47.27,463.53 L46.13,463.87 L44.63,461.33 L41.38,462.88 L42.40,465.64Z"/>
<text x="49" y="480" textLength="13.7" lengthAdjust="spacingAndGlyphs" font-family="Liberation Sans" font-size="7.9" fill="#fff">SKV</text>
</g>

</svg>
<div class="tab"></div>
<div class="tabtxt">SKV.PL</div>
</body></html>
